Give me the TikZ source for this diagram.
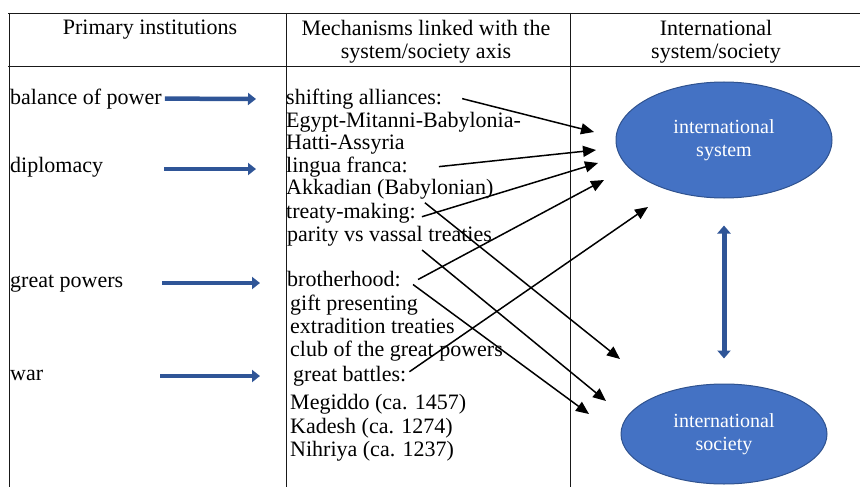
\documentclass[tikz,border=0pt]{standalone}
\usepackage{fontspec}
\setmainfont{Liberation Serif}
\usetikzlibrary{arrows.meta,shapes.geometric}
\definecolor{ArrowBlue}{RGB}{47,85,151}
\definecolor{EllipseBlue}{RGB}{68,114,196}
\definecolor{EllipseEdge}{RGB}{47,82,143}
\tikzset{
  headtext/.style={inner sep=0pt,align=center,anchor=north,
    font=\fontsize{22}{22.7}\selectfont},
  insttext/.style={inner sep=0pt,anchor=base west,
    font=\fontsize{22}{22.7}\selectfont},
  mechtext/.style={inner sep=0pt,anchor=base west,
    font=\fontsize{22}{22.7}\selectfont},
  tableline/.style={line width=0.9pt,draw=black!90},
  linkarrow/.style={-{Triangle[length=13pt,width=11pt]},
    line width=1.5pt,draw=black},
  instarrow/.style={-{Triangle[length=8pt,width=12pt]},
    line width=4.5pt,draw=ArrowBlue},
  dualarrow/.style={{Triangle[length=8pt,width=13pt]}-{Triangle[length=8pt,width=13pt]},
    line width=5pt,draw=ArrowBlue},
  axisellipse/.style={ellipse,draw=EllipseEdge,line width=1pt,fill=EllipseBlue,
    text=white,align=center,inner sep=0pt,font=\fontsize{20}{23}\selectfont},
}

\begin{document}
\begin{tikzpicture}[x=1pt,y=-1pt]
  \useasboundingbox (0,0) rectangle (860,487);
  % table frame
  \draw[tableline] (8,13) -- (860,13);
  \draw[tableline] (8,66) -- (860,66);
  \draw[tableline] (9,13) -- (9,487);
  \draw[tableline] (286,13) -- (286,487);
  \draw[tableline] (570,13) -- (570,487);
  % column heads
  \node[headtext] (hprim) at (150,20) {Primary institutions};
  \node[headtext] (hmech) at (426,20) {Mechanisms linked with the\\system/society axis};
  \node[headtext] (hintl) at (716,20) {International\\system/society};
  % primary institutions
  \node[insttext] (bop) at (10,104) {balance of power};
  \node[insttext] (dipl) at (10,172) {diplomacy};
  \node[insttext] (gp) at (10,287) {great powers};
  \node[insttext] (war) at (10,380) {war};
  % mechanisms
  \node[mechtext] (shift) at (286,104) {shifting alliances:};
  \node[mechtext] (egypt) at (286,127) {Egypt-Mitanni-Babylonia-};
  \node[mechtext] (hatti) at (286,149) {Hatti-Assyria};
  \node[mechtext] (lingua) at (286,172) {lingua franca:};
  \node[mechtext] (akkad) at (286,194) {Akkadian (Babylonian)};
  \node[mechtext] (treaty) at (286,218) {treaty-making:};
  \node[mechtext] (parity) at (287,241) {parity vs vassal treaties};
  \node[mechtext] (broth) at (287,286) {brotherhood:};
  \node[mechtext] (gift) at (290,310) {gift presenting};
  \node[mechtext] (extra) at (290,333) {extradition treaties};
  \node[mechtext] (club) at (290,356) {club of the great powers};
  \node[mechtext] (battle) at (293,381) {great battles:};
  \node[mechtext] (megid) at (290,409) {Megiddo (ca. 1457)};
  \node[mechtext] (kadesh) at (290,433) {Kadesh (ca. 1274)};
  \node[mechtext] (nihr) at (290,456) {Nihriya (ca. 1237)};
  % international system / society
  \node[axisellipse,minimum width=216pt,minimum height=116pt] (sys) at (724,140)
    {international\\system};
  \node[axisellipse,minimum width=206pt,minimum height=100pt] (soc) at (724,434)
    {international\\society};
  % free arrow ends
  \coordinate (bop-b) at (256,99);
  \coordinate (dipl-a) at (164,169);
  \coordinate (dipl-b) at (256,169);
  \coordinate (gp-a) at (162,283);
  \coordinate (gp-b) at (260,283);
  \coordinate (war-a) at (160,376);
  \coordinate (war-b) at (260,376);
  \coordinate (sysin1) at (594,132);
  \coordinate (sysin2) at (596,150);
  \coordinate (sysin3) at (598,163);
  \coordinate (sysin4) at (604,180);
  \coordinate (sysin5) at (648,207);
  \coordinate (socin1) at (620,359);
  \coordinate (socin2) at (606,401);
  \coordinate (socin3) at (589,414);
  % blue arrows
  \draw[instarrow] ([xshift=3pt]bop.east) -- (bop-b);
  \draw[instarrow] (dipl-a) -- (dipl-b);
  \draw[instarrow] (gp-a) -- (gp-b);
  \draw[instarrow] (war-a) -- (war-b);
  \draw[dualarrow,shorten <=27pt,shorten >=25pt] (sys) -- (soc);
  % links to the system
  \draw[linkarrow] ([xshift=20pt]shift.east) -- (sysin1);
  \draw[linkarrow] ([xshift=31pt]lingua.east) -- (sysin2);
  \draw[linkarrow] ([xshift=6pt,yshift=-4pt]treaty.east) -- (sysin3);
  \draw[linkarrow] ([xshift=17pt,yshift=-1pt]broth.east) -- (sysin4);
  \draw[linkarrow] ([xshift=3pt,yshift=4pt]battle.east) -- (sysin5);
  % links to the society
  \draw[linkarrow] ([xshift=9pt,yshift=10pt]treaty.east) -- (socin1);
  \draw[linkarrow] ([xshift=-70pt,yshift=-9pt]parity.base east) -- (socin2);
  \draw[linkarrow] ([xshift=12pt,yshift=-6pt]broth.east) -- (socin3);
\end{tikzpicture}
\end{document}
